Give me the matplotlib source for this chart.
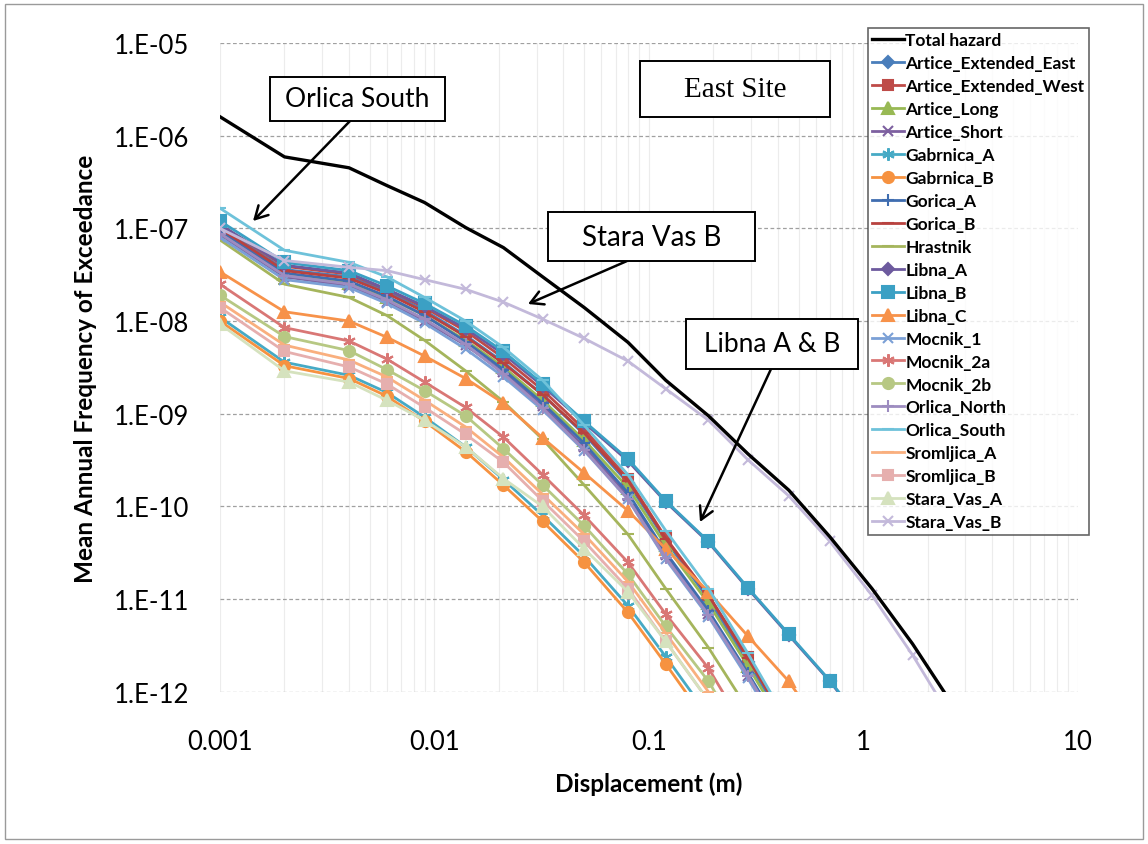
import matplotlib
matplotlib.use("Agg")
import matplotlib.pyplot as plt
from matplotlib.patches import Rectangle, FancyArrowPatch
from matplotlib.ticker import FixedLocator, NullFormatter, LogLocator

# ---------------- data ----------------
displacement = [0.001, 0.002, 0.004, 0.006, 0.009, 0.014, 0.021, 0.032, 0.05,
                0.08, 0.12, 0.19, 0.29, 0.45, 0.7, 1.1, 1.7, 2.6]

total_hazard = [1.6e-6, 5.9e-7, 4.5e-7, 2.9e-7, 1.9e-7, 1.02e-7, 6.2e-8, 3.0e-8, 1.4e-8,
                5.9e-9, 2.3e-9, 9.5e-10, 3.7e-10, 1.5e-10, 4.7e-11, 1.3e-11, 3.3e-12, 7.4e-13]

artice_extended_east = [1.05e-7, 3.6e-8, 3.0e-8, 2.1e-8, 1.3e-8, 7.0e-9, 3.6e-9, 1.6e-9, 6.0e-10,
                        1.8e-10, 4.3e-11, 1.0e-11, 2.1e-12, 4.0e-13]
artice_extended_west = [1.1e-7, 3.9e-8, 3.2e-8, 2.2e-8, 1.4e-8, 7.8e-9, 4.0e-9, 1.8e-9, 6.8e-10,
                        2.0e-10, 4.6e-11, 1.1e-11, 2.4e-12, 4.5e-13]
artice_long = [9.0e-8, 3.2e-8, 2.6e-8, 1.8e-8, 1.15e-8, 6.2e-9, 3.2e-9, 1.4e-9, 5.2e-10,
               1.6e-10, 3.8e-11, 9.0e-12, 1.9e-12, 3.5e-13]
artice_short = [8.5e-8, 3.0e-8, 2.4e-8, 1.6e-8, 1.0e-8, 5.5e-9, 2.8e-9, 1.2e-9, 4.4e-10,
                1.3e-10, 3.0e-11, 7.0e-12, 1.5e-12, 2.8e-13]
gabrnica_a = [1.1e-8, 3.6e-9, 2.6e-9, 1.7e-9, 9.2e-10, 4.4e-10, 1.95e-10, 8.0e-11, 2.9e-11,
              8.5e-12, 2.4e-12, 5.5e-13]
gabrnica_b = [1.0e-8, 3.3e-9, 2.4e-9, 1.55e-9, 8.3e-10, 3.9e-10, 1.7e-10, 6.9e-11, 2.5e-11,
              7.2e-12, 2.0e-12, 4.5e-13]
gorica_a = [9.5e-8, 3.3e-8, 2.7e-8, 1.85e-8, 1.15e-8, 6.0e-9, 3.0e-9, 1.3e-9, 4.8e-10,
            1.4e-10, 3.2e-11, 7.5e-12, 1.6e-12, 3.0e-13]
gorica_b = [1.0e-7, 3.5e-8, 2.9e-8, 2.0e-8, 1.25e-8, 6.8e-9, 3.5e-9, 1.6e-9, 6.2e-10,
            1.9e-10, 4.5e-11, 1.1e-11, 2.3e-12, 4.3e-13]
hrastnik = [7.5e-8, 2.5e-8, 1.8e-8, 1.15e-8, 6.2e-9, 2.9e-9, 1.35e-9, 5.3e-10, 1.7e-10,
            5.0e-11, 1.3e-11, 3.0e-12, 6.5e-13]
libna_a = [1.1e-7, 4.0e-8, 3.3e-8, 2.2e-8, 1.45e-8, 8.3e-9, 4.4e-9, 2.0e-9, 8.0e-10,
           3.1e-10, 1.12e-10, 4.1e-11, 1.3e-11, 4.1e-12, 1.3e-12, 3.4e-13]
libna_b = [1.2e-7, 4.3e-8, 3.5e-8, 2.4e-8, 1.55e-8, 8.9e-9, 4.7e-9, 2.1e-9, 8.3e-10,
           3.25e-10, 1.15e-10, 4.2e-11, 1.33e-11, 4.2e-12, 1.32e-12, 3.5e-13]
libna_c = [3.4e-8, 1.26e-8, 1.0e-8, 6.7e-9, 4.2e-9, 2.4e-9, 1.3e-9, 5.5e-10, 2.3e-10,
           9.0e-11, 3.5e-11, 1.2e-11, 4.0e-12, 1.3e-12, 3.0e-13]
mocnik_1 = [8.0e-8, 2.8e-8, 2.3e-8, 1.55e-8, 9.5e-9, 5.0e-9, 2.5e-9, 1.1e-9, 4.0e-10,
            1.2e-10, 2.7e-11, 6.5e-12, 1.4e-12, 2.6e-13]
mocnik_2a = [2.5e-8, 8.5e-9, 6.1e-9, 3.9e-9, 2.2e-9, 1.17e-9, 5.6e-10, 2.2e-10, 8.0e-11,
             2.5e-11, 6.9e-12, 1.8e-12, 3.5e-13]
mocnik_2b = [1.9e-8, 6.8e-9, 4.8e-9, 3.0e-9, 1.78e-9, 9.5e-10, 4.2e-10, 1.7e-10, 6.2e-11,
             1.86e-11, 5.1e-12, 1.3e-12, 2.5e-13]
orlica_north = [8.8e-8, 3.1e-8, 2.5e-8, 1.7e-8, 1.05e-8, 5.6e-9, 2.7e-9, 1.15e-9, 4.1e-10,
                1.2e-10, 2.8e-11, 6.8e-12, 1.5e-12, 2.8e-13]
orlica_south = [1.65e-7, 5.8e-8, 4.3e-8, 3.0e-8, 1.8e-8, 1.0e-8, 5.2e-9, 2.3e-9, 7.5e-10,
                2.2e-10, 5.5e-11, 1.3e-11, 2.6e-12, 4.5e-13]
sromljica_a = [1.6e-8, 5.5e-9, 3.8e-9, 2.5e-9, 1.4e-9, 7.2e-10, 3.4e-10, 1.35e-10, 5.0e-11,
               1.55e-11, 4.3e-12, 1.0e-12, 2.0e-13]
sromljica_b = [1.4e-8, 4.7e-9, 3.2e-9, 2.1e-9, 1.17e-9, 6.0e-10, 3.0e-10, 1.15e-10, 4.2e-11,
               1.3e-11, 3.5e-12, 8.0e-13]
stara_vas_a = [9.3e-9, 2.9e-9, 2.2e-9, 1.4e-9, 8.5e-10, 4.4e-10, 2.0e-10, 1.0e-10, 3.5e-11,
               1.2e-11, 3.5e-12, 8.0e-13]
stara_vas_b = [1.0e-7, 4.5e-8, 3.8e-8, 3.5e-8, 2.8e-8, 2.2e-8, 1.6e-8, 1.05e-8, 6.5e-9,
               3.7e-9, 1.86e-9, 8.5e-10, 3.2e-10, 1.3e-10, 4.2e-11, 1.1e-11, 2.5e-12, 5.0e-13]

series_names = ["Artice_Extended_East", "Artice_Extended_West", "Artice_Long", "Artice_Short",
                "Gabrnica_A", "Gabrnica_B", "Gorica_A", "Gorica_B", "Hrastnik", "Libna_A",
                "Libna_B", "Libna_C", "Mocnik_1", "Mocnik_2a", "Mocnik_2b", "Orlica_North",
                "Orlica_South", "Sromljica_A", "Sromljica_B", "Stara_Vas_A", "Stara_Vas_B"]
series_values = [artice_extended_east, artice_extended_west, artice_long, artice_short,
                 gabrnica_a, gabrnica_b, gorica_a, gorica_b, hrastnik, libna_a,
                 libna_b, libna_c, mocnik_1, mocnik_2a, mocnik_2b, orlica_north,
                 orlica_south, sromljica_a, sromljica_b, stara_vas_a, stara_vas_b]

ytick_values = [1e-5, 1e-6, 1e-7, 1e-8, 1e-9, 1e-10, 1e-11, 1e-12]
ytick_labels = ["1.E-05", "1.E-06", "1.E-07", "1.E-08", "1.E-09", "1.E-10", "1.E-11", "1.E-12"]
xtick_values = [0.001, 0.01, 0.1, 1, 10]
xtick_labels = ["0.001", "0.01", "0.1", "1", "10"]

# ---------------- styles ----------------
colors = ["#4A7EBB", "#BE4B48", "#98B954", "#7D60A0", "#46AAC5", "#F69240",
          "#3F6DB0", "#B8423F", "#A5B55C", "#6D5A9E", "#3BA0C4", "#F7924A",
          "#7BA0D6", "#D97775", "#B7C883", "#9D8CC0", "#6EC2DA", "#F9AF7E",
          "#E6AFAE", "#D5E2BE", "#C3B9DA"]
markers = ["D", "s", "^", "x", (6, 2, 0), "o", "+", "_", "_", "D", "s", "^",
           "x", (6, 2, 0), "o", "+", "_", "_", "s", "^", "x"]
msizes = [6, 7, 8, 7, 9, 8, 9, 8, 9, 6, 8, 8, 7, 9, 8, 9, 8, 9, 7, 8, 7]

plt.rcParams['font.family'] = ['Lato', 'DejaVu Sans']

W, H = 1148.0, 845.0


def fpt(px, py):
    return (px / W, 1 - py / H)


fig = plt.figure(figsize=(11.48, 8.45), dpi=100)
fig.patches.append(Rectangle((0.004, 0.006), 0.992, 0.988, transform=fig.transFigure,
                             fill=False, edgecolor="#9a9a9a", linewidth=1.0))
ax = fig.add_axes([0.1916, 0.18, 0.747, 0.768])

ax.plot(displacement, total_hazard, color="black", linewidth=2.4, label="Total hazard", zorder=3)
for name, vals, c, m, ms in zip(series_names, series_values, colors, markers, msizes):
    ax.plot(displacement[:len(vals)], vals, color=c, linewidth=2.0, marker=m,
            markersize=ms, markeredgewidth=1.5, markeredgecolor=c, label=name, zorder=2)

ax.set_xscale("log")
ax.set_yscale("log")
ax.set_xlim(0.001, 10)
ax.set_ylim(1e-12, 1e-5)

ax.yaxis.set_major_locator(FixedLocator(ytick_values))
ax.set_yticklabels(ytick_labels)
ax.yaxis.set_minor_formatter(NullFormatter())
ax.yaxis.set_minor_locator(FixedLocator([]))
ax.xaxis.set_major_locator(FixedLocator(xtick_values))
ax.set_xticklabels(xtick_labels)
ax.xaxis.set_minor_locator(LogLocator(base=10, subs=range(2, 10)))
ax.xaxis.set_minor_formatter(NullFormatter())

ax.tick_params(axis="both", which="both", length=0, labelsize=18.5, colors="black")
ax.tick_params(axis="y", pad=22)
ax.tick_params(axis="x", pad=27)

ax.grid(True, which="major", axis="y", color="#a0a0a0", linestyle=(0, (3, 2)), linewidth=0.9)
ax.grid(True, which="both", axis="x", color="#ececec", linestyle="-", linewidth=0.8)
for s in ax.spines.values():
    s.set_visible(False)
ax.set_axisbelow(True)

ax.set_xlabel("Displacement (m)", fontsize=17.5, fontweight="bold", labelpad=12)
ax.set_ylabel("Mean Annual Frequency of Exceedance", fontsize=17.5, fontweight="bold", labelpad=12)

leg = ax.legend(loc="upper left", bbox_to_anchor=fpt(868, 29), bbox_transform=fig.transFigure,
                fontsize=12.5, frameon=True, fancybox=False, edgecolor="#404040",
                handlelength=1.8, handletextpad=0.1, labelspacing=0.40, borderpad=0.25,
                borderaxespad=0)
leg.get_frame().set_linewidth(1.2)
for t in leg.get_texts():
    t.set_fontweight("bold")


def label_box(x0, y0, x1, y1, text, family=None, size=19):
    fig.patches.append(Rectangle(fpt(x0, y1), (x1 - x0) / W, (y1 - y0) / H,
                                 transform=fig.transFigure, facecolor="white",
                                 edgecolor="black", linewidth=1.4, zorder=10))
    kw = {}
    if family:
        kw["family"] = family
    fig.text((x0 + x1) / 2 / W, 1 - (y0 + y1) / 2 / H, text, ha="center", va="center",
             fontsize=size, zorder=11, **kw)


def arrow(p0, p1):
    fig.patches.append(FancyArrowPatch(fpt(*p0), fpt(*p1), transform=fig.transFigure,
                                       arrowstyle="->,head_length=9,head_width=5",
                                       color="black", linewidth=1.8, zorder=9,
                                       shrinkA=0, shrinkB=0))


arrow((350, 122), (253, 222))
arrow((627, 262), (528, 305))
arrow((771, 370), (700, 523))
label_box(270, 78, 445, 122, "Orlica South")
label_box(548, 213, 755, 262, "Stara Vas B", size=20)
label_box(686, 320, 858, 370, "Libna A & B")
label_box(640, 62, 830, 118, "East Site", family=["Liberation Serif", "DejaVu Serif"], size=21)

fig.savefig("out.png", dpi=100)
